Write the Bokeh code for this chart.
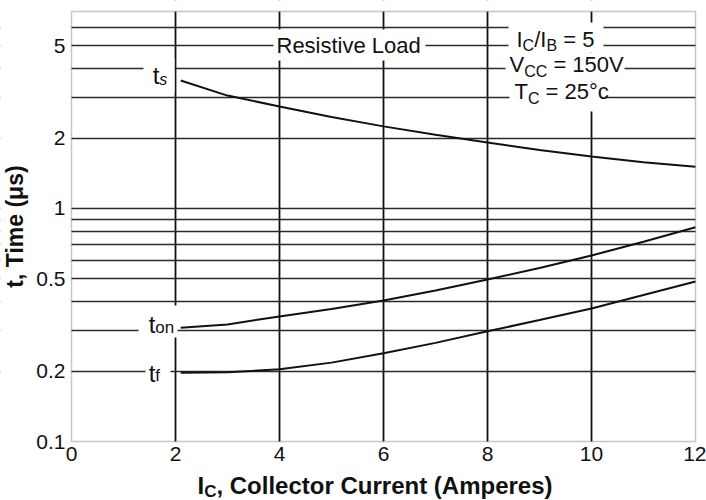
import math
from bokeh.plotting import figure
from bokeh.models import Label, FixedTicker, CustomJSTickFormatter, BoxAnnotation
from bokeh.embed import file_html
from bokeh.resources import INLINE

# ---------------- data ----------------
ic_amps = [2.1, 3, 4, 5, 6, 7, 8, 9, 10, 11, 12]
t_storage = [3.54, 3.05, 2.74, 2.47, 2.25, 2.07, 1.92, 1.78, 1.67, 1.58, 1.51]
t_on = [0.308, 0.318, 0.344, 0.370, 0.403, 0.445, 0.496, 0.555, 0.628, 0.720, 0.830]
t_fall = [0.197, 0.198, 0.204, 0.218, 0.239, 0.265, 0.297, 0.332, 0.372, 0.425, 0.486]

x_ticks = [0, 2, 4, 6, 8, 10, 12]
y_ticks = [0.1, 0.2, 0.5, 1, 2, 5]
x_grid = [2, 4, 6, 8, 10]
y_grid = [0.2, 0.3, 0.4, 0.5, 0.6, 0.7, 0.8, 0.9, 1, 2, 3, 4, 5, 6]
X0, X1 = 0, 12      # plotted x extent
Y0, Y1 = 0.1, 7     # plotted y extent

FONT = "Liberation Sans"
INK = "#111111"

# ---------------- geometry ----------------
W, H = 706, 500
PX_L, PX_R, PX_T, PX_B = 71, 695, 11, 441     # plot box inside the canvas
ppx = (PX_R - PX_L) / (X1 - X0)
dec_per_px = (math.log10(Y1) - math.log10(Y0)) / (PX_B - PX_T)
x_rng = (X0 - PX_L / ppx, X1 + (W - PX_R) / ppx)
y_rng = (Y0 / 10 ** ((H - PX_B) * dec_per_px), Y1 * 10 ** (PX_T * dec_per_px))


def dx(px):
    return X0 + (px - PX_L) / ppx


def dy(py):
    return 10 ** (math.log10(Y1) - (py - PX_T) * dec_per_px)


p = figure(width=W, height=H, x_range=x_rng, y_range=y_rng,
           y_axis_type="log", output_backend="svg", toolbar_location=None,
           min_border=0)
p.min_border_left = p.min_border_right = p.min_border_top = p.min_border_bottom = 0
p.background_fill_color = "white"
p.border_fill_color = "white"
p.outline_line_color = None

# grids
p.xgrid.ticker = FixedTicker(ticks=x_grid)
p.xgrid.grid_line_color = "#111111"
p.xgrid.grid_line_width = 1.8
p.ygrid.ticker = FixedTicker(ticks=y_grid)
p.ygrid.grid_line_color = "#2a2a2a"
p.ygrid.grid_line_width = 1.3

# white mask outside the plot box (covers grid overhang)
for kw in (dict(right=X0), dict(left=X1), dict(top=Y0), dict(bottom=Y1)):
    p.add_layout(BoxAnnotation(fill_color="white", fill_alpha=1,
                               line_color=None, level="underlay", **kw))

# axes placed at the plot box edges
p.xaxis.fixed_location = Y0
p.yaxis.fixed_location = X0
p.xaxis.bounds = (X0, X1)
p.yaxis.bounds = (Y0, Y1)
for ax in (p.xaxis[0], p.yaxis[0]):
    ax.axis_line_color = None
    ax.major_tick_in = 0
    ax.major_tick_out = 0
    ax.minor_tick_line_color = None
    ax.major_label_text_font = FONT
    ax.major_label_text_font_size = "21px"
    ax.major_label_text_color = INK
p.xaxis.ticker = FixedTicker(ticks=x_ticks)
p.yaxis.ticker = FixedTicker(ticks=y_ticks)
p.yaxis.formatter = CustomJSTickFormatter(code="return String(tick)")
p.xaxis.formatter = CustomJSTickFormatter(code="return String(tick)")
p.xaxis.major_label_standoff = 5
p.yaxis.major_label_standoff = 6
p.yaxis.axis_label = "t, Time (μs)"
p.yaxis.axis_label_text_font = FONT
p.yaxis.axis_label_text_font_size = "23px"
p.yaxis.axis_label_text_font_style = "bold"
p.yaxis.axis_label_text_color = INK
p.yaxis.axis_label_standoff = 5

# curves
p.line(ic_amps, t_storage, line_color=INK, line_width=2)
p.line(ic_amps, t_on, line_color=INK, line_width=2)
p.line(ic_amps, t_fall, line_color=INK, line_width=2)

# white gaps in the grid behind the in-plot texts (reference pixel boxes)
gap_boxes = [
    (143, 174, 58, 92),    # t_s
    (138, 177, 305, 337),  # t_on
    (145, 170, 362, 386),  # t_f
    (273, 425, 29, 60),    # Resistive Load
    (508, 603, 22, 52),    # Ic/Ib
    (505, 624, 52, 81),    # Vcc
    (509, 604, 81, 111),   # Tc
]
for x0, x1, y0, y1 in gap_boxes:
    p.add_layout(BoxAnnotation(left=dx(x0), right=dx(x1), top=dy(y0),
                               bottom=dy(y1), fill_color="white", fill_alpha=1,
                               line_color=None))

# ------------- text helpers -------------
W_REG = {'I': .278, 'C': .722, '/': .278, 'B': .667, ' ': .278, '=': .584,
         '5': .556, 'V': .667, '1': .556, '0': .556, 'T': .611, '2': .556,
         '°': .4, 'c': .5, 't': .278, 's': .5, 'o': .556, 'n': .556, 'f': .278}
W_BOLD = {'I': .278, 'C': .722, ',': .278, ' ': .278, 'o': .611, 'l': .278,
          'e': .556, 'c': .556, 't': .333, 'r': .389, 'u': .611, 'n': .611,
          '(': .333, ')': .333, 'A': .722, 'm': .889, 'p': .611, 's': .556}
MID = 0.29   # baseline lies this many em below a "middle" anchor


def text_width(s, size, bold):
    table = W_BOLD if bold else W_REG
    return sum(table.get(ch, .556) for ch in s) * size


def add_run(x, y, x0, y0, pieces):
    """pieces: (text, size_px, bold, dy, italic); y0/dy give the baseline offset."""
    cx = x0
    for text, size, bold, ddy, italic in pieces:
        stripped = text.lstrip(" ")
        cx += text_width(text[:len(text) - len(stripped)], size, bold)
        style = "bold" if bold else ("italic" if italic else "normal")
        p.add_layout(Label(x=x, y=y, x_offset=cx,
                           y_offset=y0 + ddy + MID * size,
                           text=stripped, text_font=FONT,
                           text_font_size=f"{size}px",
                           text_font_style=style, text_color=INK,
                           text_baseline="middle", text_align="left"))
        cx += text_width(stripped, size, bold)


# curve labels (anchored at each curve's first point)
add_run(ic_amps[0], t_storage[0], -28, -2,
        [("t", 24, False, 0, False), ("s", 16, False, -2, True)])
add_run(ic_amps[0], t_on[0], -32, -4,
        [("t", 24, False, 0, False), ("on", 17, False, -1, False)])
add_run(ic_amps[0], t_fall[0], -32, -8,
        [("t", 24, False, 0, False), ("f", 17, False, 0, False)])

# "Resistive Load"
p.add_layout(Label(x=4, y=5, x_offset=-3, y_offset=0, text="Resistive Load",
                   text_font=FONT, text_font_size="22px", text_color=INK,
                   text_baseline="middle", text_align="left"))

# Conditions block
add_run(10, 5, -75, 0,
        [("I", 22, False, 0, False), ("C", 16, False, -5, False),
         ("/I", 22, False, 0, False), ("B", 16, False, -5, False),
         (" = 5", 22, False, 0, False)])
add_run(10, 4, -82, -3,
        [("V", 22, False, 0, False), ("CC", 16, False, -5, False),
         (" = 150V", 22, False, 0, False)])
add_run(10, 3, -77, -1,
        [("T", 22, False, 0, False), ("C", 16, False, -5, False),
         (" = 25°c", 22, False, 0, False)])

# x-axis title (below the plot box)
add_run(X0, Y0, 126, -51,
        [("I", 24, True, 0, False), ("C", 17, True, -4, False),
         (", Collector Current (Amperes)", 24, True, 0, False)])

# plot box border
p.add_layout(BoxAnnotation(left=X0, right=X1, bottom=Y0, top=Y1,
                           fill_alpha=0, line_color="#444444", line_width=1.5))

open("out.html", "w").write(file_html(p, INLINE))
